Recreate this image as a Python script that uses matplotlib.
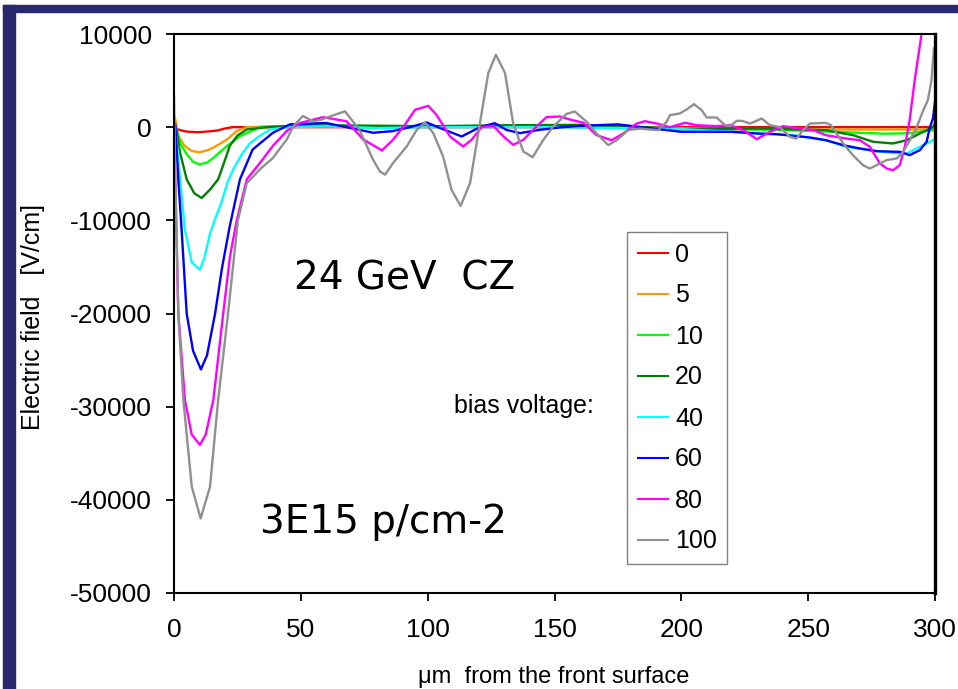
import matplotlib
matplotlib.use("Agg")
import matplotlib.pyplot as plt
from matplotlib.patches import Rectangle

# depth from the front surface, um  /  electric field, V/cm
red_x = [0, 1, 2.4, 5, 9.5, 14, 17, 20, 23, 30, 100, 200, 300]
red_y = [0, -150, -320, -480, -540, -450, -360, -150, 0, 0, 0, 0, 0]

orange_x = [0, 0.4, 1.7, 4.3, 7, 10, 13, 15.5, 18, 21, 24.7, 28.7, 40, 100, 150, 200, 250, 300]
orange_y = [1000, 1000, -960, -2040, -2550, -2700, -2500, -2200, -1800, -1300, -430, 0, 100, 50, 50, -200, -250, -250]

lime_x = [0, 1, 2.4, 5, 7.5, 10, 13, 15.5, 18, 21, 26, 34, 50, 100, 150, 200, 240, 260, 280, 290, 300]
lime_y = [0, -250, -1700, -2900, -3700, -4000, -3800, -3300, -2700, -2000, -960, 0, 150, 100, 100, -100, -300, -500, -700, -650, -300]

green_x = [0, 1, 2.4, 5, 8, 10.9, 14.2, 17.4, 20, 22, 25, 28.7, 36.6, 50, 80, 100, 130, 160, 200,
           231, 257, 267.7, 275.6, 283.4, 288.8, 294, 299.2, 300]
green_y = [0, -250, -2750, -5600, -7100, -7600, -6700, -5600, -3600, -2000, -900, -250, 0, 200, 150, 100, 200, 250, -200,
           -140, -320, -860, -1570, -1750, -1400, -680, 0, 400]

cyan_x = [0, 0.5, 2.4, 4.3, 7, 10.2, 12, 14.2, 16, 18.8, 21, 23.4, 27, 30, 34, 37.8, 45, 60, 80, 100, 120, 150, 200,
          231, 244, 257, 265, 274.3, 283.4, 288.8, 294, 296.8, 299.2, 300]
cyan_y = [0, 0, -5600, -11000, -14500, -15300, -14000, -11400, -10000, -8000, -6000, -4500, -2800, -1700, -900, -250, 0, 100, -100, 0, 0, 0, -200,
          -680, -860, -1400, -2110, -2470, -2760, -2830, -2110, -1750, -1400, -1300]

blue_x = [0, 0.5, 1.7, 3, 5, 7.5, 10.6, 13, 16.2, 19, 22, 26, 31, 39, 45.7, 60, 68, 78.5, 86, 93,
          99.6, 106, 113.4, 120.6, 126.5, 131, 136.4, 144, 153, 160, 175, 200, 220, 231, 237.5,
          250.7, 257, 263.8, 270.4, 277, 286.2, 290, 294, 296.7, 298, 299.2, 300]
blue_y = [400, 300, -5600, -11000, -20000, -24000, -26000, -24500, -20000, -15000, -10600, -5600, -2400, -600, 300, 450, 0, -600, -430, 0,
          500, -210, -1000, 0, 430, -290, -640, -290, 0, 140, 300, -500, -500, -700, -750,
          -1110, -1400, -1930, -2290, -2580, -2650, -3000, -2470, -1570, 0, 930, 2700]

magenta_x = [0, 1.7, 4.3, 7, 10.2, 12.5, 15.5, 19.4, 22, 24.8, 28.7, 34, 39, 44.5, 49.7, 58.7, 68, 74.5, 82, 86.3,
             91, 95, 100.2, 103.5, 108.8, 114, 117.3, 121.3, 125.9, 129.9, 133.7, 137.7, 142.9, 146.8, 152.1,
             156.1, 161.4, 166.6, 172.5, 177.1, 182.4, 185.7, 190.3, 195.5, 201.5, 206.1, 213.9, 219.2, 224.5, 229.7,
             235, 240, 252, 257, 265, 270.4, 274.3, 278.3, 281, 283.4, 286.1, 288.1, 290, 292, 294.7, 296]
magenta_y = [0, -20000, -29300, -33000, -34100, -33000, -29300, -20000, -14000, -9900, -5600, -3800, -2000, -400, 450, 1070, 640, -1300, -2500, -1360,
             250, 1860, 2290, 1320, -1000, -2080, -1360, 0, 140, -1000, -1900, -1360, 70, 1070, 1150,
             820, 470, -860, -1400, -680, 390, 640, 390, 0, 470, 210, 110, 210, -320, -1290,
             -500, 110, -320, -860, -1220, -1400, -2110, -3900, -4440, -4620, -4080, -2110, 750, 5040, 10000, 13000]

gray_x = [0, 0.5, 1.7, 3.7, 7, 10.5, 14.2, 17.4, 21.3, 25.2, 28.7, 34, 39, 44.5, 47, 50.8, 54.8, 58, 62, 67.4,
          73, 78.5, 81.2, 83.2, 86.3, 91.7, 95.7, 98.9, 102.2, 106.1, 109.4, 113, 116.7, 120.6, 123.9,
          126.9, 130.5, 133.7, 137.7, 141.4, 145.6, 149.5, 154.8, 158, 162.7, 166.6, 171.2, 174.5, 179.1, 183.7,
          187.6, 190.9, 194.2, 195.5, 199.4, 202.1, 205, 208, 210, 213.9, 217.2, 219.2, 221.8, 223.8, 227.1,
          231.7, 234.9, 238.8, 242.8, 245.4, 248, 250.7, 257, 259, 261.2, 263.8, 267.6, 271.6, 274.3, 278.3,
          280.9, 284.9, 287.4, 290.1, 292.8, 295.4, 297.2, 298.6, 299.6]
gray_y = [3500, -5000, -20000, -29300, -38600, -42000, -38600, -29300, -20000, -10000, -6000, -4500, -3300, -1300, 100, 1200, 640, 800, 1200, 1700,
          -250, -3500, -4760, -5100, -3870, -2080, -290, 500, -640, -3150, -6730, -8450, -6020, 430, 5800,
          7770, 5800, 430, -2610, -3220, -1360, 70, 1430, 1680, 570, -680, -1930, -1400, -320, -140,
          -250, -320, 570, 1290, 1470, 1900, 2470, 1830, 1040, 1040, 210, 110, 680, 680, 390,
          930, 210, 0, -1040, -1220, -320, 390, 470, 210, -680, -1750, -3000, -4080, -4440, -3900,
          -3540, -3360, -2650, -1400, 0, 1830, 2900, 5000, 8500]

bias_labels = ['0', '5', '10', '20', '40', '60', '80', '100']
colors = ['#ff0000', '#ff9900', '#00ff00', '#008000', '#00ffff', '#0000ff', '#ff00ff', '#909090']
series = [(red_x, red_y), (orange_x, orange_y), (lime_x, lime_y), (green_x, green_y),
          (cyan_x, cyan_y), (blue_x, blue_y), (magenta_x, magenta_y), (gray_x, gray_y)]

plt.rcParams['font.family'] = ['Liberation Sans', 'DejaVu Sans']
plt.rcParams['axes.unicode_minus'] = False

W, H = 958, 689
fig = plt.figure(figsize=(W / 100, H / 100), dpi=100, facecolor='white')

# slide frame (navy strips on the left and on top)
navy = '#29296f'
fig.patches.append(Rectangle((3 / W, 0), 12 / W, 1 - 5 / H, transform=fig.transFigure, color=navy, zorder=0))
fig.patches.append(Rectangle((3 / W, 1 - 12.3 / H), 1, 7.3 / H, transform=fig.transFigure, color=navy, zorder=0))

ax = fig.add_axes([174 / W, 1 - 593 / H, 761 / W, 559 / H])

for (xs, ys), c, lab in zip(series, colors, bias_labels):
    ax.plot(xs, ys, color=c, lw=1.7, label=lab)

ax.set_xlim(0, 300)
ax.set_ylim(-50000, 10000)
ax.set_xticks(range(0, 301, 50))
ax.set_yticks(range(-50000, 10001, 10000))
ax.tick_params(axis='both', direction='out', length=6, width=1.3, labelsize=19, colors='black')
ax.tick_params(axis='y', pad=10)
ax.tick_params(axis='x', pad=12)
for side in ['left', 'top', 'bottom']:
    ax.spines[side].set_linewidth(1.5)
ax.spines['right'].set_linewidth(2.4)

fig.text(33 / W, 1 - 317 / H, 'Electric field   [V/cm]', rotation=90, ha='center', va='center', fontsize=18)
fig.text(554 / W, 1 / H, 'μm  from the front surface', ha='center', va='bottom', fontsize=17)

# annotations inside the plot
fig.text(405 / W, 1 - 279 / H, '24 GeV  CZ', ha='center', va='center', fontsize=28, family='DejaVu Sans')
fig.text(383 / W, 1 - 522 / H, '3E15 p/cm-2', ha='center', va='center', fontsize=28, family='DejaVu Sans')
fig.text(594 / W, 1 - 406 / H, 'bias voltage:', ha='right', va='center', fontsize=18)

leg = ax.legend(loc='upper left', bbox_to_anchor=(627 / W, 1 - 232 / H), bbox_transform=fig.transFigure,
                borderaxespad=0, fontsize=18, frameon=True, fancybox=False, handlelength=1.2,
                handletextpad=0.3, labelspacing=0.68, borderpad=0.42)
leg.get_frame().set_edgecolor('#606060')
leg.get_frame().set_linewidth(1.0)
for line in leg.get_lines():
    line.set_linewidth(1.5)

fig.savefig('out.png', dpi=100, facecolor='white')
